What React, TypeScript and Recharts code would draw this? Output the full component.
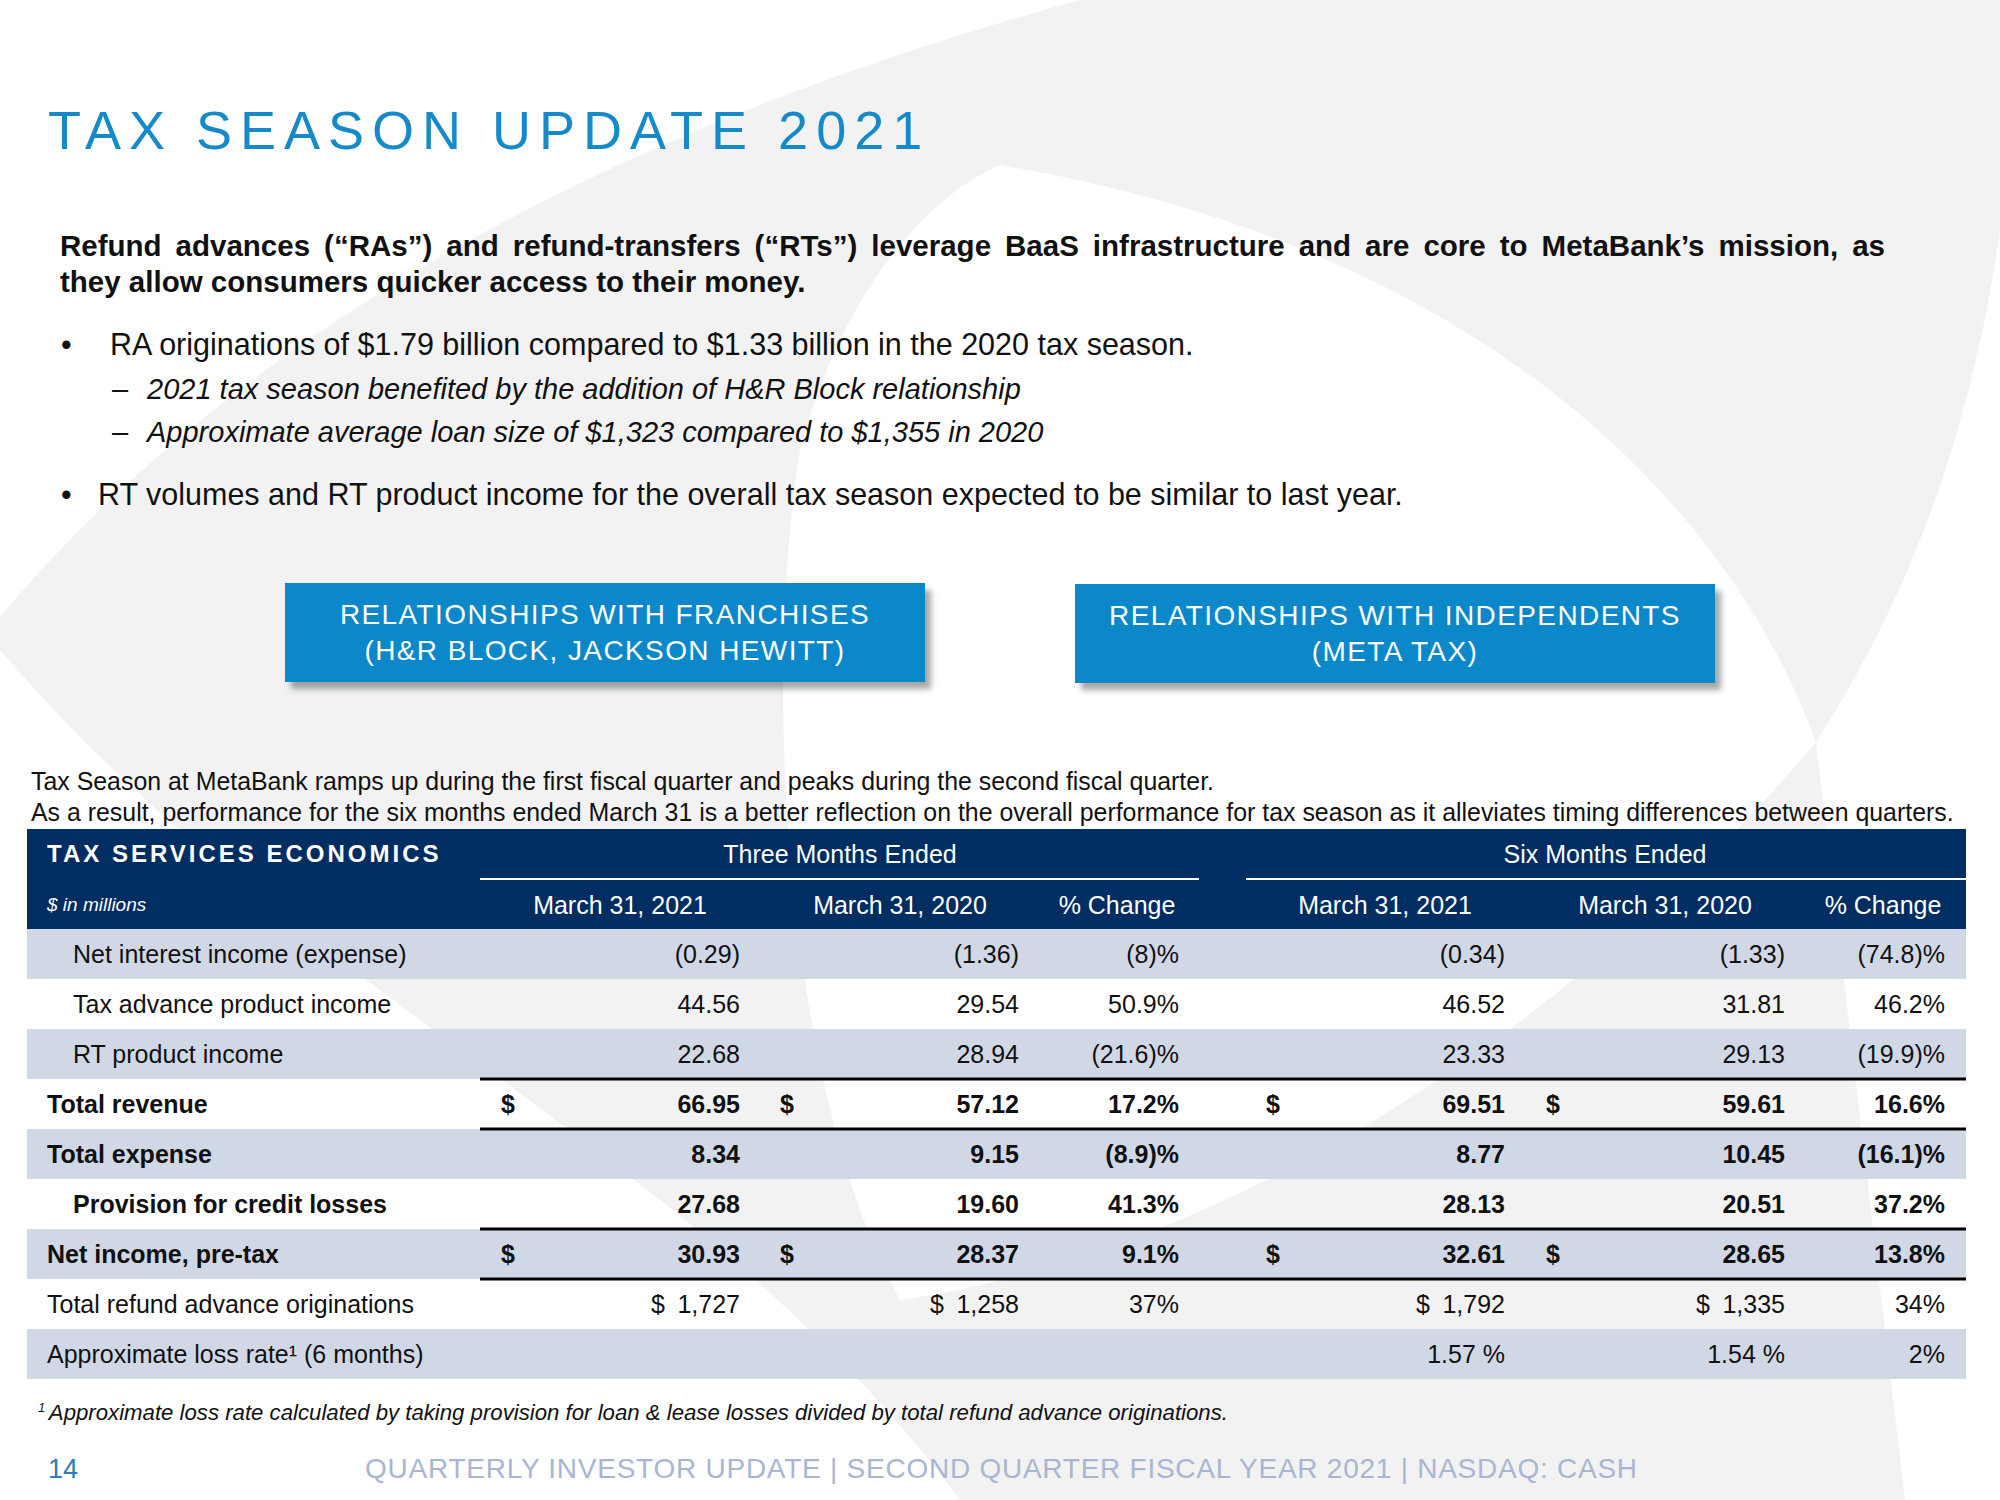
import React from 'react';
import { ComposedChart, Bar, XAxis, YAxis, Surface } from 'recharts';

const FONT = '"Liberation Sans", Arial, Helvetica, sans-serif';

// table rows
const rowLabels = [
  'Net interest income (expense)',
  'Tax advance product income',
  'RT product income',
  'Total revenue',
  'Total expense',
  'Provision for credit losses',
  'Net income, pre-tax',
  'Total refund advance originations',
  'Approximate loss rate\u00b9 (6 months)',
];
const indentedRows = [true, true, true, false, false, true, false, false, false];
const boldRows = [false, false, false, true, true, true, true, false, false];
const shadedRows = [true, false, true, false, true, false, true, false, true];
const totalRows = [false, false, false, true, false, false, true, false, false]; // $ sign + black rules

const threeMonths2021 = ['(0.29)', '44.56', '22.68', '66.95', '8.34', '27.68', '30.93', '$\u20021,727', ''];
const threeMonths2020 = ['(1.36)', '29.54', '28.94', '57.12', '9.15', '19.60', '28.37', '$\u20021,258', ''];
const threeMonthsChange = ['(8)%', '50.9%', '(21.6)%', '17.2%', '(8.9)%', '41.3%', '9.1%', '37%', ''];
const sixMonths2021 = ['(0.34)', '46.52', '23.33', '69.51', '8.77', '28.13', '32.61', '$\u20021,792', '1.57 %'];
const sixMonths2020 = ['(1.33)', '31.81', '29.13', '59.61', '10.45', '20.51', '28.65', '$\u20021,335', '1.54 %'];
const sixMonthsChange = ['(74.8)%', '46.2%', '(19.9)%', '16.6%', '(16.1)%', '37.2%', '13.8%', '34%', '2%'];

const groupHeads = ['Three Months Ended', 'Six Months Ended'];
const columnHeads = ['March 31, 2021', 'March 31, 2020', '% Change', 'March 31, 2021', 'March 31, 2020', '% Change'];

const leadLines = [
  'Refund advances (“RAs”) and refund-transfers (“RTs”) leverage BaaS infrastructure and are core to MetaBank’s mission, as',
  'they allow consumers quicker access to their money.',
];
const bullets = [
  'RA originations of $1.79 billion compared to $1.33 billion in the 2020 tax season.',
  'RT volumes and RT product income for the overall tax season expected to be similar to last year.',
];
const subBullets = [
  '2021 tax season benefited by the addition of H&R Block relationship',
  'Approximate average loan size of $1,323 compared to $1,355 in 2020',
];
const boxes = [
  ['RELATIONSHIPS WITH FRANCHISES', '(H&R BLOCK, JACKSON HEWITT)'],
  ['RELATIONSHIPS WITH INDEPENDENTS', '(META TAX)'],
];

const tableData = rowLabels.map((label, i) => ({
  label,
  shade: shadedRows[i] ? 1 : 0,
  values: [threeMonths2021[i], threeMonths2020[i], threeMonthsChange[i], sixMonths2021[i], sixMonths2020[i], sixMonthsChange[i]],
  indent: indentedRows[i],
  bold: boldRows[i],
  total: totalRows[i],
}));

// layout; body chart starts at x=26 (1px y-axis), so chart x = page x - 26
const CHART_X = 26;
const CHART_W = 1940;
const BODY_Y = 929;
const BODY_H = 450;
const ROW_H = BODY_H / rowLabels.length;
const valueRight = [714, 993, 1153, 1479, 1759, 1919];
const dollarX = [475, 754, 1240, 1520];
const headCenter = [620, 900, 1117, 1385, 1665, 1883];
const groupCenter = [840, 1605];

const NAVY = '#002d62';
const SHADE = '#d0d8e6';

const RowTick = (props: any) => {
  const { y, payload } = props;
  const row = tableData.find((r) => r.label === payload.value);
  if (!row) return null;
  const weight = row.bold ? 700 : 400;
  return (
    <g fontFamily={FONT} fontSize={25} fill="#111" fontWeight={weight}>
      {row.total && (
        <>
          <line x1={454} x2={CHART_W} y1={y - ROW_H / 2} y2={y - ROW_H / 2} stroke="#000" strokeWidth={3} />
          <line x1={454} x2={CHART_W} y1={y + ROW_H / 2} y2={y + ROW_H / 2} stroke="#000" strokeWidth={3} />
        </>
      )}
      <text x={row.indent ? 47 : 21} y={y} dy="0.35em">{row.label}</text>
      {row.total && dollarX.map((dx) => (
        <text key={dx} x={dx} y={y} dy="0.35em">$</text>
      ))}
      {row.values.map((v, j) => (
        <text key={j} x={valueRight[j]} y={y} dy="0.35em" textAnchor="end">{v}</text>
      ))}
    </g>
  );
};

const abs = (left: number, centerY: number, lh: number, extra: React.CSSProperties = {}): React.CSSProperties => ({
  position: 'absolute',
  left,
  top: centerY - lh / 2,
  lineHeight: `${lh}px`,
  whiteSpace: 'nowrap',
  ...extra,
});

export default function App() {
  return (
    <div style={{ position: 'absolute', left: 0, top: 0, width: 2000, height: 1500, overflow: 'hidden', background: '#fff', fontFamily: FONT, color: '#111' }}>
      {/* background swooshes */}
      <Surface width={2000} height={1500} viewBox={{ x: 0, y: 0, width: 2000, height: 1500 }} style={{ position: 'absolute', left: 0, top: 0 }}>
        <path
          fill="#f2f2f2"
          fillRule="evenodd"
          d="M 0 617 Q 350 200 1080 0 L 2000 0 L 2000 230 Q 1960 520 1816 742 L 1905 1500 L 960 1500 C 700 1150 300 1000 0 650 Z
             M 1000 165 C 1450 240 1720 480 1816 742 C 1600 1000 1250 1250 900 1300 C 790 1100 760 700 800 450 C 840 300 920 200 1000 165 Z"
        />
      </Surface>

      {/* title */}
      <div style={abs(48, 130, 64, { fontSize: 54, letterSpacing: 8, color: '#168ac9' })}>TAX SEASON UPDATE 2021</div>

      {/* lead paragraph */}
      <div style={abs(60, 246, 36, { width: 1825, fontSize: 29.5, fontWeight: 700, textAlign: 'justify', textAlignLast: 'justify' })}>{leadLines[0]}</div>
      <div style={abs(60, 282, 36, { fontSize: 29.5, fontWeight: 700 })}>{leadLines[1]}</div>

      <div style={abs(61, 344, 36, { fontSize: 30.5 })}>•</div>
      <div style={abs(110, 344, 36, { fontSize: 30.5 })}>{bullets[0]}</div>
      {subBullets.map((s, i) => (
        <React.Fragment key={s}>
          <div style={abs(112, 389 + i * 43, 36, { fontSize: 29 })}>–</div>
          <div style={abs(147, 389 + i * 43, 36, { fontSize: 29, fontStyle: 'italic' })}>{s}</div>
        </React.Fragment>
      ))}
      <div style={abs(61, 494, 36, { fontSize: 30.5 })}>•</div>
      <div style={abs(98, 494, 36, { fontSize: 30.5 })}>{bullets[1]}</div>

      {/* boxes */}
      {boxes.map((b, i) => (
        <div
          key={i}
          style={{
            position: 'absolute', left: i === 0 ? 285 : 1075, top: i === 0 ? 583 : 584, width: 640, height: 99,
            background: '#0a88c9', boxShadow: '6px 7px 6px rgba(0,0,0,0.35)', color: '#fff',
            fontSize: 28, letterSpacing: 1.4, textAlign: 'center', lineHeight: '36px', paddingTop: 14, boxSizing: 'border-box',
          }}
        >
          <div>{b[0]}</div>
          <div>{b[1]}</div>
        </div>
      ))}

      {/* intro */}
      <div style={abs(31, 781, 31, { fontSize: 24.9 })}>Tax Season at MetaBank ramps up during the first fiscal quarter and peaks during the second fiscal quarter.</div>
      <div style={abs(31, 812, 31, { fontSize: 24.9 })}>As a result, performance for the six months ended March 31 is a better reflection on the overall performance for tax season as it alleviates timing differences between quarters.</div>

      {/* table header */}
      <div style={{ position: 'absolute', left: 27, top: 829, width: 1939, height: 101, background: NAVY }} />
      <div style={abs(47, 854, 30, { fontSize: 24, fontWeight: 700, letterSpacing: 3, color: '#fff' })}>TAX SERVICES ECONOMICS</div>
      <div style={abs(47, 905, 30, { fontSize: 19, fontStyle: 'italic', color: '#fff' })}>$ in millions</div>
      {groupHeads.map((g, i) => (
        <div key={g} style={abs(groupCenter[i] - 200, 854, 30, { width: 400, textAlign: 'center', fontSize: 25, color: '#fff' })}>{g}</div>
      ))}
      <div style={{ position: 'absolute', left: 480, top: 878, width: 719, height: 2, background: '#fff' }} />
      <div style={{ position: 'absolute', left: 1246, top: 878, width: 720, height: 2, background: '#fff' }} />
      {columnHeads.map((c, i) => (
        <div key={i} style={abs(headCenter[i] - 120, 905, 30, { width: 240, textAlign: 'center', fontSize: 25, color: '#fff' })}>{c}</div>
      ))}

      {/* table body */}
      <div style={{ position: 'absolute', left: CHART_X, top: BODY_Y }}>
        <ComposedChart
          width={CHART_W}
          height={BODY_H}
          data={tableData}
          layout="vertical"
          margin={{ top: 0, right: 0, bottom: 0, left: 0 }}
          barCategoryGap={0}
        >
          <XAxis type="number" domain={[0, 1]} hide />
          <Bar dataKey="shade" fill={SHADE} isAnimationActive={false} />
          <YAxis
            type="category"
            dataKey="label"
            width={1}
            interval={0}
            axisLine={false}
            tickLine={false}
            tick={<RowTick />}
          />
        </ComposedChart>
      </div>

      {/* footnote and footer */}
      <div style={abs(38, 1408, 28, { fontSize: 22.2, fontStyle: 'italic' })}>
        <sup style={{ fontSize: 13 }}>1 </sup>Approximate loss rate calculated by taking provision for loan &amp; lease losses divided by total refund advance originations.
      </div>
      <div style={abs(48, 1469, 34, { fontSize: 27, color: '#2b7bbd' })}>14</div>
      <div style={abs(365, 1469, 34, { fontSize: 28, letterSpacing: 0.75, color: '#a9b6d2' })}>
        QUARTERLY INVESTOR UPDATE | SECOND QUARTER FISCAL YEAR 2021 | NASDAQ: CASH
      </div>
    </div>
  );
}
